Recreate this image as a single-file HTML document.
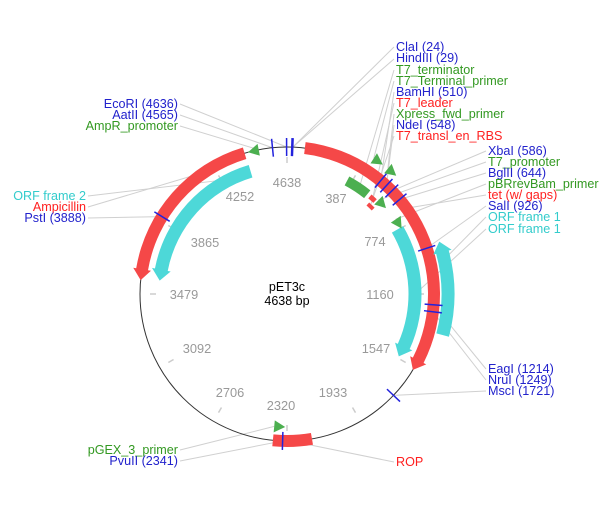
<!DOCTYPE html>
<html><head><meta charset="utf-8"><style>
html,body{margin:0;padding:0;background:#fff;}
svg{display:block;font-family:"Liberation Sans",Arial,sans-serif;}
.lb{font-size:12.6px;}
.tk{font-size:12.8px;fill:#999;}
</style></head><body>
<svg id="s" width="615" height="515" viewBox="0 0 615 515" xmlns="http://www.w3.org/2000/svg">
<g id="lines" stroke="#d0d0d0" stroke-width="1" fill="none"></g>
<circle cx="287" cy="294" r="147" fill="none" stroke="#333" stroke-width="1"/>
<g id="ticks" stroke="#ccc" stroke-width="1.5"></g>
<g id="feat"></g>
<g id="sites" stroke="#2222dd" stroke-width="1.5"></g>
<g class="tk" text-anchor="middle">
<text x="287" y="187">4638</text>
<text x="240" y="201">4252</text>
<text x="336" y="203">387</text>
<text x="375" y="246">774</text>
<text x="380" y="299">1160</text>
<text x="376" y="353">1547</text>
<text x="333" y="397">1933</text>
<text x="281" y="410">2320</text>
<text x="230" y="397">2706</text>
<text x="197" y="353">3092</text>
<text x="184" y="299">3479</text>
<text x="205" y="247">3865</text>
</g>
<text x="287" y="291" text-anchor="middle" font-size="12.5">pET3c</text>
<text x="287" y="305" text-anchor="middle" font-size="12.5">4638 bp</text>
<g class="lb">
<text x="396" y="51" fill="#2222cc">ClaI (24)</text>
<text x="396" y="62" fill="#2222cc">HindIII (29)</text>
<text x="396" y="74" fill="#339922">T7_terminator</text>
<text x="396" y="85" fill="#339922">T7_Terminal_primer</text>
<text x="396" y="96" fill="#2222cc">BamHI (510)</text>
<text x="396" y="107" fill="#ff2020">T7_leader</text>
<text x="396" y="118" fill="#339922">Xpress_fwd_primer</text>
<text x="396" y="129" fill="#2222cc">NdeI (548)</text>
<text x="396" y="140" fill="#ff2020">T7_transl_en_RBS</text>
<text x="488" y="155" fill="#2222cc">XbaI (586)</text>
<text x="488" y="166" fill="#339922">T7_promoter</text>
<text x="488" y="177" fill="#2222cc">BglII (644)</text>
<text x="488" y="188" fill="#339922">pBRrevBam_primer</text>
<text x="488" y="199" fill="#ff2020">tet (w/ gaps)</text>
<text x="488" y="210" fill="#2222cc">SalI (926)</text>
<text x="488" y="221" fill="#33cccc">ORF frame 1</text>
<text x="488" y="233" fill="#33cccc">ORF frame 1</text>
<text x="488" y="373" fill="#2222cc">EagI (1214)</text>
<text x="488" y="384" fill="#2222cc">NruI (1249)</text>
<text x="488" y="395" fill="#2222cc">MscI (1721)</text>
<text x="396" y="466" fill="#ff2020">ROP</text>
<g text-anchor="end">
<text x="178" y="108" fill="#2222cc">EcoRI (4636)</text>
<text x="178" y="119" fill="#2222cc">AatII (4565)</text>
<text x="178" y="130" fill="#339922">AmpR_promoter</text>
<text x="86" y="200" fill="#33cccc">ORF frame 2</text>
<text x="86" y="211" fill="#ff2020">Ampicillin</text>
<text x="86" y="222" fill="#2222cc">PstI (3888)</text>
<text x="178" y="454" fill="#339922">pGEX_3_primer</text>
<text x="178" y="465" fill="#2222cc">PvuII (2341)</text>
</g>
</g>
</svg>
<script>
var cx=287,cy=294,N=4638,NS="http://www.w3.org/2000/svg";
function pt(p,r){var t=p/N*2*Math.PI;return [cx+r*Math.sin(t),cy-r*Math.cos(t)];}
function f(a){return a[0].toFixed(2)+","+a[1].toFixed(2);}
function add(g,tag,at){var e=document.createElementNS(NS,tag);for(var k in at)e.setAttribute(k,at[k]);document.getElementById(g).appendChild(e);return e;}
function band(p1,p2,r,w,dir,col){
 var al=11/r*N/(2*Math.PI),ro=r+w/2,ri=r-w/2,a=p1,b=p2,d="";
 if(dir==1)b=p2-al; if(dir==-1)a=p1+al;
 var lg=((b-a)/N*360>180)?1:0;
 d="M"+f(pt(a,ro))+" A"+ro+","+ro+" 0 "+lg+" 1 "+f(pt(b,ro));
 if(dir==1){d+=" L"+f(pt(b,ro+3))+" L"+f(pt(p2,r))+" L"+f(pt(b,ri-3));}
 d+=" L"+f(pt(b,ri))+" A"+ri+","+ri+" 0 "+lg+" 0 "+f(pt(a,ri));
 if(dir==-1){d+=" L"+f(pt(a,ri-3))+" L"+f(pt(p1,r))+" L"+f(pt(a,ro+3));}
 d+="Z";add("feat","path",{d:d,fill:col});
}
function tri(p,r,dir,col){var al=11/r*N/(2*Math.PI),b=p+dir*al;
 add("feat","path",{d:"M"+f(pt(p,r-6))+" L"+f(pt(p,r+6))+" L"+f(pt(b,r))+"Z",fill:col});}
var R="#f54848",C="#4dd8d8",G="#4caf50";
band(90,1560,147,12,1,R);
band(3548,4422,147,12,-1,R);
band(2193,2390,147,12,0,R);
band(3556,4425,128,13,-1,C);
band(769,1535,128,13,1,C);
band(915,1350,161,13,-1,C);
band(360,500,128,10,0,G);
band(520,560,128,5,0,R);
band(540,585,121,4,0,R);
tri(420,161,1,G);tri(500,161,1,G);tri(570,131,1,G);tri(715,132,1,G);
tri(4495,147,-1,G);tri(2390,133,-1,G);
for(var i=0;i<12;i++){var p=i*N/12;var a=pt(p,137),b=pt(p,131);add("ticks","line",{x1:a[0],y1:a[1],x2:b[0],y2:b[1]});}
[24,29,4565,4636,510,548,586,644,926,1214,1249,1721,2341,3888].forEach(function(p){var a=pt(p,156),b=pt(p,138);add("sites","line",{x1:a[0],y1:a[1],x2:b[0],y2:b[1]});});
var L=[[394,47,29,147],[394,59,29,147],[394,70,440,129],[394,81,420,161],[394,92,510,147],[394,103,540,128],[394,114,500,161],[394,125,548,147],[394,136,560,121],
[486,151,586,147],[486,162,570,131],[486,173,644,147],[486,184,715,132],[486,195,700,147],[486,206,926,147],[486,217,1000,161],[486,229,1160,128],
[486,369,1214,147],[486,380,1249,147],[486,391,1721,147],[394,462,2300,147],
[180,104,4636,147],[180,115,4565,147],[180,126,4495,147],[88,196,4300,128],[88,207,4200,147],[88,218,3888,147],[180,450,2390,133],[180,461,2341,147]];
L.forEach(function(l){var b=pt(l[2],l[3]);add("lines","line",{x1:l[0],y1:l[1],x2:b[0],y2:b[1]});});
</script>
</body></html>
